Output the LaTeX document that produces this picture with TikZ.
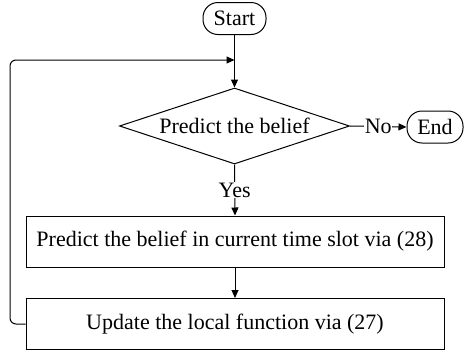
\documentclass[tikz,border=0pt]{standalone}
\usepackage{fontspec}
\setmainfont{Liberation Serif}
\usetikzlibrary{shapes.geometric,arrows.meta}
\begin{document}
\begin{tikzpicture}[x=1pt,y=-1pt,
  every node/.style={font=\fontsize{22}{24}\selectfont},
  line/.style={line width=1pt},
  arr/.style={line width=1pt,-{Triangle[length=8pt,width=7pt]}},
  term/.style={draw,line width=1pt,rectangle,rounded corners=15pt,minimum height=32pt,inner sep=0pt},
  decis/.style={draw,line width=1pt,diamond,aspect=3,minimum width=230pt,minimum height=76pt,inner sep=0pt},
  procbox/.style={draw,line width=1pt,rectangle,minimum width=418pt,minimum height=51pt,inner sep=0pt},
  lbl/.style={fill=white,inner sep=0.5pt}]
\useasboundingbox (0,0) rectangle (464,349);
\node[term,minimum width=63pt] (start) at (234.5,18.5) {Start};
\node[decis] (dia) at (234.5,126) {Predict the belief};
\node[term,minimum width=56pt] (end) at (435,127) {End};
\node[procbox] (b1) at (235,241.5) {Predict the belief in current time slot via (28)};
\node[procbox] (b2) at (235,324) {Update the local function via (27)};
\coordinate (m) at (234.5,60);
\coordinate (c1) at (10,324);
\coordinate (c2) at (10,60);
\draw[arr] (start) -- (dia);
\draw[arr] (dia.east) -- node[lbl] {No} (end.west);
\draw[arr] (dia.south) -- node[lbl] {Yes} (b1.north);
\draw[arr] (b1) -- (b2);
\draw[arr,rounded corners=6pt] (b2.west) -- (c1) -- (c2) -- (m);
\end{tikzpicture}
\end{document}
